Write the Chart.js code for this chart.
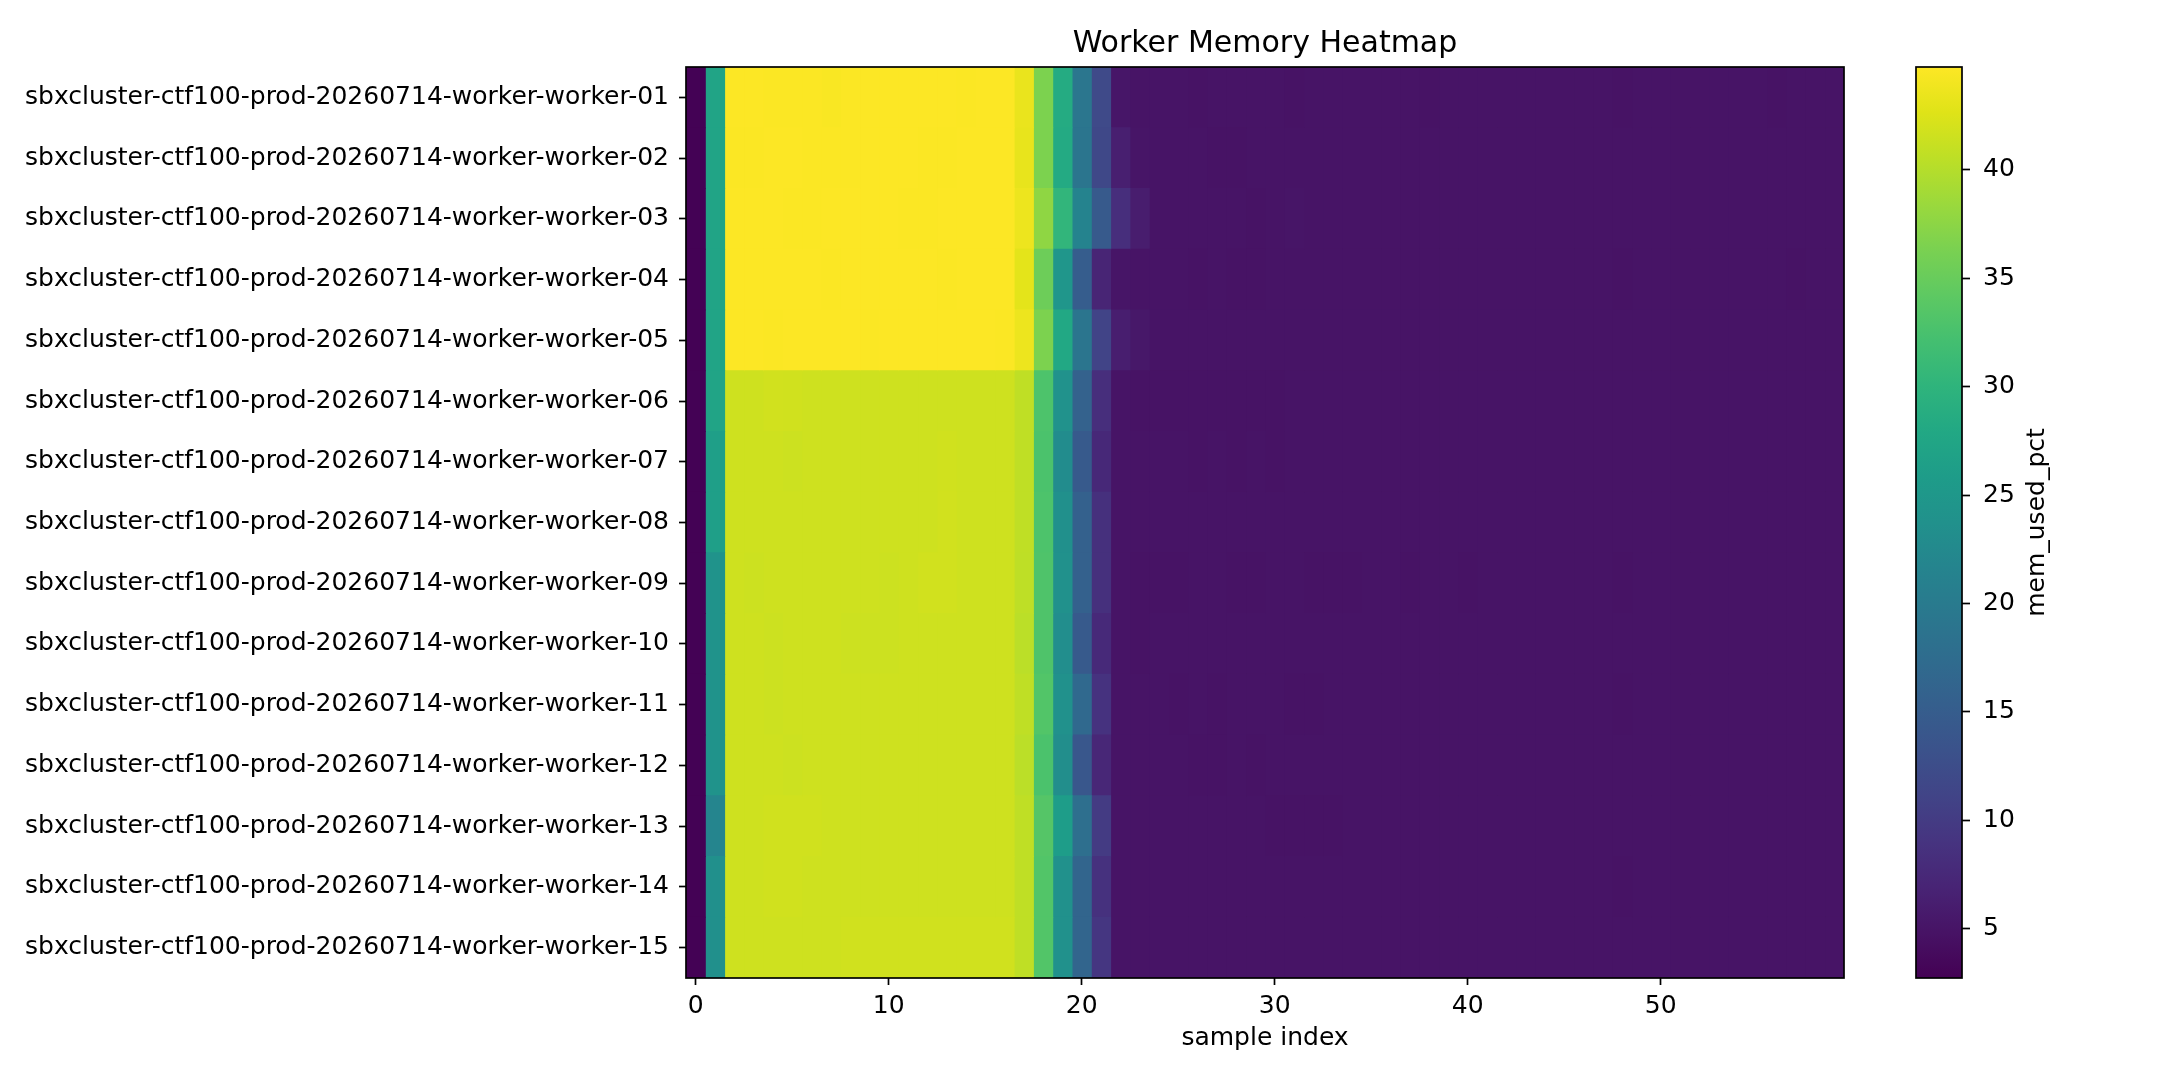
<!DOCTYPE html>
<html>
<head>
<meta charset="utf-8">
<title>Worker Memory Heatmap</title>
<script src="https://cdn.jsdelivr.net/npm/chart.js@4.4.1/dist/chart.umd.min.js"></script>
<style>
  html, body { margin: 0; padding: 0; background: #fff; }
  #wrap { position: relative; width: 2160px; height: 1080px; }
  #main { position: absolute; left: 0; top: 0; }
  #cbar { position: absolute; left: 1880px; top: 0; }
</style>
</head>
<body>
<div id="wrap">
  <canvas id="main" width="1880" height="1080"></canvas>
  <canvas id="cbar" width="280" height="1080"></canvas>
</div>
<script>
// rows of the heatmap
var WORKERS = [
  'sbxcluster-ctf100-prod-20260714-worker-worker-01',
  'sbxcluster-ctf100-prod-20260714-worker-worker-02',
  'sbxcluster-ctf100-prod-20260714-worker-worker-03',
  'sbxcluster-ctf100-prod-20260714-worker-worker-04',
  'sbxcluster-ctf100-prod-20260714-worker-worker-05',
  'sbxcluster-ctf100-prod-20260714-worker-worker-06',
  'sbxcluster-ctf100-prod-20260714-worker-worker-07',
  'sbxcluster-ctf100-prod-20260714-worker-worker-08',
  'sbxcluster-ctf100-prod-20260714-worker-worker-09',
  'sbxcluster-ctf100-prod-20260714-worker-worker-10',
  'sbxcluster-ctf100-prod-20260714-worker-worker-11',
  'sbxcluster-ctf100-prod-20260714-worker-worker-12',
  'sbxcluster-ctf100-prod-20260714-worker-worker-13',
  'sbxcluster-ctf100-prod-20260714-worker-worker-14',
  'sbxcluster-ctf100-prod-20260714-worker-worker-15'
];

// mem_used_pct per sample index (0..59), one list per worker
var w01 = [2.8,27.3, 44.7,44.7,44.6,44.6,44.6,44.5,44.6,44.7,44.7,44.7,44.7,44.7,44.6,44.7,44.7, 43.4,36.5,28.5,19.2,12.0,
  5.2,5.0,4.9,4.9,4.8,4.9,5.0,4.9,4.9,4.8, 4.9,4.9,5.0,4.9,4.9,4.9,4.8,4.9,4.9,4.9, 4.9,5.0,5.0,4.9,4.9,4.9,4.8,4.9,4.9,4.9, 4.9,5.0,4.9,4.9,4.8,4.9,4.9,4.9];
var w02 = [2.8,27.3, 44.6,44.6,44.7,44.7,44.6,44.6,44.6,44.7,44.7,44.7,44.6,44.6,44.7,44.7,44.7, 43.3,36.5,28.3,19.0,11.8,
  6.3,5.1,4.9,4.9,4.9,4.8,4.8,4.9,4.9,4.9, 4.9,4.9,5.0,5.0,4.9,4.9,4.9,4.9,5.0,4.9, 4.9,4.9,4.9,4.9,4.9,5.0,4.9,4.9,4.9,4.9, 4.9,4.9,4.9,5.0,4.9,4.9,4.9,4.9];
var w03 = [2.8,27.3, 44.7,44.7,44.7,44.6,44.6,44.7,44.7,44.7,44.7,44.6,44.6,44.7,44.7,44.7,44.7, 43.6,37.7,30.3,21.5,14.5,
  8.2,6.0,5.0,4.9,4.9,4.9,5.0,4.8,4.9,5.1, 4.9,4.9,4.9,4.9,4.9,4.9,4.9,4.9,4.9,4.9, 4.9,4.9,5.0,5.0,4.9,4.9,4.9,5.0,4.9,5.0, 4.9,4.9,4.9,4.9,5.0,4.9,4.9,4.9];
var w04 = [2.8,27.3, 44.7,44.7,44.7,44.7,44.7,44.6,44.7,44.7,44.7,44.7,44.7,44.6,44.7,44.7,44.7, 43.0,35.4,24.6,15.0,7.0,
  5.1,4.9,4.9,4.9,4.8,4.9,4.8,4.8,4.9,4.9, 4.9,4.9,4.9,4.9,5.0,4.9,4.9,5.0,4.9,4.9, 4.9,4.9,4.9,4.9,4.9,4.9,4.8,4.9,4.9,4.9, 4.9,5.0,4.9,4.9,4.9,4.8,4.9,4.9];
var w05 = [2.8,27.3, 44.7,44.7,44.6,44.7,44.7,44.7,44.7,44.6,44.7,44.7,44.7,44.7,44.7,44.7,44.6, 43.6,36.5,28.0,19.0,11.2,
  6.2,5.4,5.0,4.9,4.9,4.9,4.9,4.9,4.9,4.9, 4.9,4.9,4.9,4.9,4.9,4.9,4.9,4.9,4.9,4.9, 4.9,5.0,5.0,4.9,4.9,4.9,4.9,4.9,4.9,4.9, 4.9,4.9,4.9,4.9,4.9,4.9,4.9,4.9];
var w06 = [2.8,27.3, 41.6,41.6,41.8,41.7,41.6,41.6,41.6,41.6,41.6,41.6,41.6,41.6,41.6,41.6,41.6, 40.7,32.9,23.9,15.8,8.2,
  5.0,4.8,4.8,4.8,4.8,4.8,4.8,4.8,4.8,4.9, 4.9,4.9,4.9,4.9,4.9,4.9,4.9,4.9,4.9,4.9, 4.9,4.9,4.9,4.9,4.9,4.9,4.9,4.9,4.9,4.9, 4.9,4.9,4.9,4.9,4.9,4.9,4.9,4.9];
var w07 = [2.8,26.3, 41.6,41.6,41.6,41.5,41.6,41.6,41.6,41.6,41.6,41.6,41.6,41.7,41.6,41.6,41.6, 40.7,32.7,23.0,14.5,7.5,
  4.9,4.9,4.9,4.9,4.8,4.9,4.8,4.9,4.8,4.9, 4.9,4.9,4.9,4.9,4.9,4.9,4.9,4.9,4.9,4.9, 4.9,4.9,4.9,4.9,4.9,4.9,4.9,4.9,4.9,4.9, 4.9,4.9,4.9,4.9,4.9,4.9,4.9,5.0];
var w08 = [2.8,26.3, 41.6,41.6,41.6,41.6,41.6,41.6,41.6,41.6,41.6,41.6,41.6,41.8,41.6,41.6,41.6, 40.7,32.9,23.6,15.7,8.5,
  5.0,4.9,4.9,4.9,4.9,4.9,4.9,4.9,4.9,4.9, 4.9,4.9,4.9,4.9,4.9,4.9,4.9,4.9,4.9,4.9, 4.9,4.9,4.9,4.9,4.9,4.9,4.9,4.9,4.9,4.9, 4.9,4.9,4.9,4.9,4.9,4.9,4.9,5.0];
var w09 = [2.8,24.2, 41.6,41.5,41.6,41.6,41.6,41.6,41.6,41.6,41.5,41.6,41.8,41.8,41.6,41.6,41.6, 40.6,33.0,23.8,15.6,8.5,
  4.9,4.8,4.8,4.8,4.9,4.9,4.8,4.8,4.9,4.9, 4.8,4.8,4.8,4.9,4.9,4.8,4.9,4.9,4.8,4.9, 4.9,4.9,4.9,4.9,4.9,4.9,4.8,4.9,4.9,4.9, 4.9,4.9,4.9,4.9,4.9,4.9,4.9,4.9];
var w10 = [2.8,24.2, 41.6,41.6,41.5,41.6,41.6,41.6,41.5,41.5,41.5,41.6,41.6,41.6,41.6,41.6,41.6, 40.4,33.0,23.2,14.6,7.6,
  4.9,4.8,4.9,4.9,4.9,4.9,4.9,4.9,4.9,4.9, 4.9,4.9,4.9,4.9,4.9,4.9,4.9,4.9,4.9,4.9, 4.9,4.9,4.9,4.9,4.9,4.9,4.9,4.9,4.9,4.9, 4.9,4.9,4.9,4.9,4.9,4.9,4.9,4.9];
var w11 = [2.8,24.2, 41.6,41.6,41.5,41.6,41.6,41.6,41.6,41.6,41.6,41.6,41.6,41.6,41.6,41.6,41.6, 40.7,33.3,23.8,17.0,8.8,
  4.9,4.9,4.9,4.8,4.9,4.8,4.9,4.9,4.9,4.8, 4.8,4.9,4.9,4.9,4.9,4.9,4.9,4.9,4.9,4.9, 4.9,4.9,4.9,4.9,4.9,4.9,4.8,4.9,4.9,4.9, 4.9,4.9,4.9,4.9,4.9,4.9,4.9,4.9];
var w12 = [2.8,24.2, 41.6,41.6,41.6,41.5,41.6,41.6,41.6,41.6,41.6,41.6,41.6,41.6,41.6,41.6,41.6, 40.4,32.7,23.3,14.0,7.3,
  4.9,4.9,4.9,4.9,4.8,4.8,4.9,4.8,4.9,4.9, 4.9,4.9,4.9,4.9,4.9,4.9,4.9,4.9,4.9,4.9, 4.9,4.9,4.9,4.9,4.9,4.9,4.9,4.9,4.9,4.9, 4.9,4.9,4.9,4.9,4.9,4.9,4.9,4.9];
var w13 = [2.8,21.8, 41.6,41.6,41.7,41.7,41.7,41.6,41.6,41.6,41.6,41.6,41.6,41.6,41.6,41.6,41.6, 40.7,33.5,26.0,17.9,9.9,
  4.9,4.9,4.9,4.9,4.9,4.9,4.9,4.9,4.8,4.8, 4.8,4.8,4.9,4.9,4.9,4.9,4.9,4.9,4.9,4.9, 4.9,4.9,4.9,4.9,4.9,4.9,4.9,4.9,4.9,4.9, 4.9,4.9,4.9,4.9,4.9,4.9,4.9,4.9];
var w14 = [2.8,23.5, 41.6,41.6,41.7,41.7,41.6,41.6,41.6,41.6,41.6,41.6,41.6,41.6,41.6,41.6,41.6, 40.7,33.3,23.8,16.3,8.6,
  4.9,4.9,4.9,4.9,4.9,4.9,4.9,4.9,4.9,4.9, 4.9,4.9,4.9,4.9,4.9,4.9,4.9,4.9,4.9,4.9, 4.9,4.9,4.9,4.9,4.9,4.9,4.8,4.9,4.9,4.9, 4.9,4.9,4.9,4.9,4.9,4.9,4.9,4.9];
var w15 = [2.8,23.5, 41.6,41.6,41.6,41.6,41.6,41.6,41.7,41.7,41.7,41.7,41.7,41.7,41.7,41.7,41.7, 40.7,33.3,23.8,16.3,9.3,
  4.9,4.9,4.9,4.9,4.9,4.9,4.9,4.9,4.9,4.9, 4.9,4.9,4.9,4.9,4.9,4.9,4.9,4.9,4.9,4.9, 4.9,4.9,4.9,4.9,4.9,4.9,4.9,4.9,4.9,4.9, 4.9,4.9,4.9,4.9,4.9,4.9,4.9,4.9];

var MEM = [w01, w02, w03, w04, w05, w06, w07, w08, w09, w10, w11, w12, w13, w14, w15];

var X_TICKS = [0, 10, 20, 30, 40, 50];
var CB_TICKS = [5, 10, 15, 20, 25, 30, 35, 40];
var VMIN = 2.72;
var VMAX = 44.75;

// viridis, sampled every 0.05
var VIRIDIS = ['#440154','#471365','#482475','#463480','#414487','#3b528b','#355f8d',
  '#2f6c8e','#2a788e','#25848e','#21918c','#1e9c89','#22a884','#2fb47c','#44bf70',
  '#5ec962','#7ad151','#9bd93c','#bddf26','#dfe318','#fde725'];

function hexRgb(h) {
  return [parseInt(h.substr(1,2),16), parseInt(h.substr(3,2),16), parseInt(h.substr(5,2),16)];
}
function viridis(v) {
  var t = (v - VMIN) / (VMAX - VMIN);
  t = Math.max(0, Math.min(1, t));
  var p = t * (VIRIDIS.length - 1);
  var i = Math.min(Math.floor(p), VIRIDIS.length - 2);
  var f = p - i;
  var a = hexRgb(VIRIDIS[i]), b = hexRgb(VIRIDIS[i+1]);
  return 'rgb(' + Math.round(a[0]+(b[0]-a[0])*f) + ',' + Math.round(a[1]+(b[1]-a[1])*f) + ',' + Math.round(a[2]+(b[2]-a[2])*f) + ')';
}

Chart.defaults.font.family = "'DejaVu Sans', sans-serif";
Chart.defaults.color = '#000';

var frame = {
  id: 'frame',
  afterDraw: function(chart) {
    var a = chart.chartArea, c = chart.ctx;
    c.save();
    c.strokeStyle = '#000';
    c.lineWidth = 1.7;
    c.strokeRect(a.left, a.top, a.right - a.left, a.bottom - a.top);
    c.restore();
  }
};

// one floating-bar dataset per sample column
var datasets = [];
for (var j = 0; j < w01.length; j++) {
  datasets.push({
    label: 'sample ' + j,
    data: MEM.map(function(){ return [j - 0.5, j + 0.5]; }),
    backgroundColor: MEM.map(function(row){ return viridis(row[j]); }),
    borderWidth: 0,
    barPercentage: 1,
    categoryPercentage: 1,
    grouped: false,
    inflateAmount: 0.5
  });
}

new Chart(document.getElementById('main'), {
  type: 'bar',
  data: { labels: WORKERS, datasets: datasets },
  options: {
    indexAxis: 'y',
    responsive: false,
    animation: false,
    devicePixelRatio: 1,
    layout: { padding: { left: 0, right: 36, top: 0, bottom: 0 } },
    plugins: {
      legend: { display: false },
      tooltip: { enabled: false },
      title: {
        display: true,
        text: 'Worker Memory Heatmap',
        fullSize: false,
        color: '#000',
        font: { size: 30, weight: 'normal' },
        padding: { top: 26, bottom: 5 }
      }
    },
    scales: {
      x: {
        type: 'linear',
        min: -0.5,
        max: 59.5,
        afterBuildTicks: function(s){ s.ticks = X_TICKS.map(function(v){ return { value: v }; }); },
        afterFit: function(s){ s.height = 102; },
        ticks: { font: { size: 25 }, color: '#000', padding: 6, maxRotation: 0 },
        grid: { drawOnChartArea: false, tickLength: 7, tickWidth: 1.7, tickColor: '#000' },
        border: { display: false },
        title: { display: true, text: 'sample index', font: { size: 25 }, color: '#000', padding: { top: 0, bottom: 27 } }
      },
      y: {
        afterFit: function(s){ s.width = 686; },
        ticks: { font: { size: 25 }, color: '#000', padding: 10 },
        grid: { drawOnChartArea: false, offset: false, tickLength: 7, tickWidth: 1.7, tickColor: '#000' },
        border: { display: false }
      }
    }
  },
  plugins: [frame]
});

var cbLabel = {
  id: 'cbLabel',
  afterDraw: function(chart) {
    var a = chart.chartArea, c = chart.ctx;
    c.save();
    c.translate(157, (a.top + a.bottom) / 2);
    c.rotate(-Math.PI / 2);
    c.textAlign = 'center';
    c.textBaseline = 'middle';
    c.fillStyle = '#000';
    c.font = "25px 'DejaVu Sans', sans-serif";
    c.fillText('mem_used_pct', 0, 0);
    c.restore();
  }
};

new Chart(document.getElementById('cbar'), {
  type: 'bar',
  data: {
    labels: ['mem_used_pct'],
    datasets: [{
      data: [[VMIN, VMAX]],
      backgroundColor: function(ctx) {
        var a = ctx.chart.chartArea;
        if (!a) return null;
        var g = ctx.chart.ctx.createLinearGradient(0, a.bottom, 0, a.top);
        VIRIDIS.forEach(function(col, i){ g.addColorStop(i / (VIRIDIS.length - 1), col); });
        return g;
      },
      borderWidth: 0,
      barPercentage: 1,
      categoryPercentage: 1
    }]
  },
  options: {
    responsive: false,
    animation: false,
    devicePixelRatio: 1,
    layout: { padding: { left: 36, right: 0, top: 67, bottom: 102 } },
    plugins: { legend: { display: false }, tooltip: { enabled: false } },
    scales: {
      x: { display: false },
      y: {
        position: 'right',
        min: VMIN,
        max: VMAX,
        afterBuildTicks: function(s){ s.ticks = CB_TICKS.map(function(v){ return { value: v }; }); },
        afterFit: function(s){ s.width = 198; },
        ticks: { font: { size: 25 }, color: '#000', padding: 13 },
        grid: { drawOnChartArea: false, tickLength: 8, tickWidth: 1.7, tickColor: '#000' },
        border: { display: false }
      }
    }
  },
  plugins: [frame, cbLabel]
});
</script>
</body>
</html>
